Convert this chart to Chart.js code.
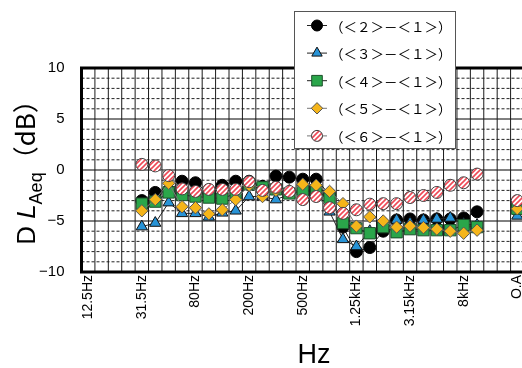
<!DOCTYPE html>
<html>
<head>
<meta charset="utf-8">
<script src="https://cdn.jsdelivr.net/npm/chart.js@4/dist/chart.umd.min.js"></script>
<style>
  html, body { margin: 0; padding: 0; background: #fff; overflow: hidden; }
  #wrap { position: relative; width: 545px; height: 368px; }
</style>
</head>
<body>
<div id="wrap"><canvas id="c"></canvas></div>
<script>
// 1/3-octave band centre frequencies plus overall (O.A)
const bands = ['12.5Hz','16Hz','20Hz','25Hz','31.5Hz','40Hz','50Hz','63Hz','80Hz','100Hz',
  '125Hz','160Hz','200Hz','250Hz','315Hz','400Hz','500Hz','630Hz','800Hz','1kHz',
  '1.25kHz','1.6kHz','2kHz','2.5kHz','3.15kHz','4kHz','5kHz','6.3kHz','8kHz','10kHz',
  '12.5kHz','16kHz','O.A'];

// Level differences against <1> (dB)
const d21 = [null,null,null,null,-3.0,-2.2,-2.0,-1.1,-1.25,-2.3,-1.5,-1.1,-1.1,-1.6,-0.6,-0.7,-0.9,-0.9,-2.4,-5.6,-8.0,-7.6,-6.0,-4.9,-4.8,-4.9,-4.8,-4.8,-4.7,-4.1,null,null,-3.4];
const d31 = [null,null,null,null,-5.55,-5.2,-3.2,-4.25,-4.25,-4.6,-4.2,-4.0,-2.6,-2.6,-2.9,-2.4,-2.1,-2.1,-4.1,-6.8,-7.5,-6.0,-5.5,-4.9,-5.2,-4.9,-4.8,-4.7,-5.3,-5.4,null,null,-4.5];
const d41 = [null,null,null,null,-3.3,-3.1,-2.2,-2.45,-2.6,-2.7,-2.8,-2.3,-1.4,-1.7,-1.9,-2.3,-2.0,-2.0,-2.8,-5.2,-5.7,-6.2,-5.6,-6.1,-5.8,-5.9,-5.9,-5.9,-5.4,-5.6,null,null,-3.8];
const d51 = [null,null,null,null,-4.0,-2.9,-1.3,-3.6,-3.7,-4.3,-3.9,-2.9,-1.5,-2.6,-2.0,-2.0,-1.4,-1.5,-2.1,-3.3,-5.5,-4.6,-5.0,-5.6,-5.5,-5.65,-5.8,-6.0,-6.2,-5.9,null,null,-3.8];
const d61 = [null,null,null,null,0.55,0.4,-0.55,-1.85,-2.1,-1.9,-1.9,-1.9,-1.15,-2.0,-1.7,-2.1,-2.9,-2.6,-3.7,-4.25,-3.9,-3.35,-3.3,-3.3,-2.7,-2.5,-2.2,-1.5,-1.25,-0.4,null,null,-3.0];

const seriesNames = ['（＜２＞－＜１＞）','（＜３＞－＜１＞）','（＜４＞－＜１＞）','（＜５＞－＜１＞）','（＜６＞－＜１＞）'];
const yTicks = [-10, -5, 0, 5, 10];

// white disc with red diagonal hatching
function hatch() {
  const s = 5;
  const c = document.createElement('canvas');
  c.width = s; c.height = s;
  const g = c.getContext('2d');
  g.fillStyle = '#ffffff';
  g.fillRect(0, 0, s, s);
  g.strokeStyle = '#ee4a57';
  g.lineWidth = 1.6;
  g.beginPath();
  g.moveTo(-1, s + 1); g.lineTo(s + 1, -1);
  g.moveTo(-1, 1); g.lineTo(1, -1);
  g.moveTo(s - 1, s + 1); g.lineTo(s + 1, s - 1);
  g.stroke();
  return g.createPattern(c, 'repeat');
}
const hatchFill = hatch();

const styles = [
  { pointStyle: 'circle',  pointRadius: 6,   bg: '#000000', border: '#000000', line: '#222222' },
  { pointStyle: 'triangle',pointRadius: 6.5, bg: '#2893d6', border: '#111111', line: '#222222' },
  { pointStyle: 'rect',    pointRadius: 8,   bg: '#2aa64a', border: '#1c4f2a', line: '#222222' },
  { pointStyle: 'rectRot', pointRadius: 6.2, bg: '#f5b51a', border: '#555555', line: '#777777' },
  { pointStyle: 'circle',  pointRadius: 6,   bg: hatchFill, border: '#444444', line: '#777777' }
];
const values = [d21, d31, d41, d51, d61];

const datasets = values.map((v, i) => ({
  label: seriesNames[i],
  data: v,
  order: 5 - i,
  borderColor: styles[i].line,
  borderWidth: 1,
  pointStyle: styles[i].pointStyle,
  pointRadius: styles[i].pointRadius,
  pointBackgroundColor: styles[i].bg,
  pointBorderColor: styles[i].border,
  pointBorderWidth: 1,
  spanGaps: false,
  tension: 0
}));

function markerPath(ctx, style, x, y, r) {
  ctx.beginPath();
  if (style === 'circle') {
    ctx.arc(x, y, r, 0, Math.PI * 2);
  } else if (style === 'triangle') {
    ctx.moveTo(x, y - r);
    ctx.lineTo(x + r * Math.sin(2 * Math.PI / 3), y - r * Math.cos(2 * Math.PI / 3));
    ctx.lineTo(x + r * Math.sin(4 * Math.PI / 3), y - r * Math.cos(4 * Math.PI / 3));
    ctx.closePath();
  } else if (style === 'rect') {
    const s = r * Math.SQRT1_2;
    ctx.rect(x - s, y - s, 2 * s, 2 * s);
  } else {
    ctx.moveTo(x - r, y); ctx.lineTo(x, y - r); ctx.lineTo(x + r, y); ctx.lineTo(x, y + r);
    ctx.closePath();
  }
}

const framePlugin = {
  id: 'frame',
  beforeDatasetsDraw(chart) {
    const { ctx, chartArea: a, scales: { x, y } } = chart;
    ctx.save();
    ctx.beginPath();
    ctx.rect(a.left, a.top, a.right - a.left, a.bottom - a.top);
    ctx.clip();
    ctx.lineWidth = 1;
    // horizontal: solid every 5 dB, dashed every 1 dB
    for (let v = -9; v <= 9; v++) {
      const py = y.getPixelForValue(v);
      const major = v % 5 === 0;
      ctx.setLineDash(major ? [] : [3, 2]);
      ctx.strokeStyle = major ? '#000' : '#222';
      ctx.beginPath(); ctx.moveTo(a.left, py); ctx.lineTo(a.right, py); ctx.stroke();
    }
    ctx.setLineDash([]);
    // vertical: band boundaries
    ctx.strokeStyle = '#1a1a1a';
    for (let i = 1; i < bands.length; i++) {
      const px = (x.getPixelForValue(i - 1) + x.getPixelForValue(i)) / 2;
      ctx.beginPath(); ctx.moveTo(px, a.top); ctx.lineTo(px, a.bottom); ctx.stroke();
    }
    ctx.restore();
    ctx.save();
    ctx.lineWidth = 3;
    ctx.strokeStyle = '#000';
    ctx.strokeRect(a.left, a.top, a.right - a.left, a.bottom - a.top);
    ctx.restore();
  },
  afterDraw(chart) {
    const { ctx } = chart;
    ctx.save();
    // x-axis title
    ctx.fillStyle = '#000';
    ctx.font = '27px "Liberation Sans", Arial, sans-serif';
    ctx.textAlign = 'center';
    ctx.textBaseline = 'alphabetic';
    ctx.fillText('Hz', 314, 363);

    // y-axis title: D L_Aeq （dB）
    ctx.translate(35, 166);
    ctx.rotate(-Math.PI / 2);
    ctx.textAlign = 'left';
    const big = '26px "Liberation Sans", Arial, sans-serif';
    const ital = 'italic 26px "Liberation Sans", Arial, sans-serif';
    const sub = '18px "Liberation Sans", Arial, sans-serif';
    const cjk = '26px "Noto Sans CJK JP", "Liberation Sans", sans-serif';
    const parts = [
      { t: 'D', f: big, dy: 0 },
      { t: ' ', f: big, dy: 0 },
      { t: 'L', f: ital, dy: 0 },
      { t: 'Aeq', f: sub, dy: 7 },
      { t: '（dB）', f: cjk, dy: 0 }
    ];
    let total = 0;
    parts.forEach(p => { ctx.font = p.f; p.w = ctx.measureText(p.t).width; total += p.w; });
    let cx = -total / 2;
    parts.forEach(p => { ctx.font = p.f; ctx.fillText(p.t, cx, p.dy); cx += p.w; });
    ctx.restore();

    // legend box
    ctx.save();
    const bx = 294.5, by = 11.5, bw = 161, bh = 137;
    ctx.fillStyle = '#fff';
    ctx.fillRect(bx, by, bw, bh);
    ctx.strokeStyle = '#555';
    ctx.lineWidth = 1;
    ctx.strokeRect(bx, by, bw, bh);
    ctx.font = '13.5px "Noto Sans CJK JP", sans-serif';
    ctx.textBaseline = 'middle';
    ctx.textAlign = 'left';
    chart.data.datasets.forEach((ds, i) => {
      const ly = 25.5 + i * 27.6;
      ctx.strokeStyle = styles[i].line;
      ctx.lineWidth = 1;
      ctx.beginPath(); ctx.moveTo(307, ly); ctx.lineTo(327, ly); ctx.stroke();
      markerPath(ctx, styles[i].pointStyle, 317, ly, styles[i].pointRadius - 0.5);
      ctx.fillStyle = styles[i].bg;
      ctx.fill();
      ctx.strokeStyle = styles[i].border;
      ctx.stroke();
      ctx.fillStyle = '#000';
      ctx.fillText(ds.label, 330, ly + 1);
    });
    ctx.restore();
  }
};

new Chart(document.getElementById('c'), {
  type: 'line',
  data: { labels: bands, datasets },
  options: {
    responsive: true,
    maintainAspectRatio: false,
    animation: false,
    events: [],
    layout: { padding: { top: 68, right: 21, left: 0, bottom: 0 } },
    plugins: { legend: { display: false }, tooltip: { enabled: false } },
    scales: {
      x: {
        type: 'category',
        offset: true,
        grid: { display: false, drawTicks: false },
        border: { display: false },
        afterFit: s => { s.height = 96; },
        ticks: {
          autoSkip: false,
          minRotation: 90,
          maxRotation: 90,
          padding: 3,
          color: '#000',
          font: { family: '"Liberation Sans", Arial, sans-serif', size: 14 },
          callback: (v, i) => (i % 4 === 0 ? bands[i] : '')
        }
      },
      y: {
        min: -10,
        max: 10,
        grid: { display: false, drawTicks: false },
        border: { display: false },
        afterFit: s => { s.width = 81.5; },
        afterBuildTicks: s => { s.ticks = yTicks.map(v => ({ value: v })); },
        ticks: {
          padding: 17,
          color: '#000',
          font: { family: '"Liberation Sans", Arial, sans-serif', size: 15 },
          callback: v => (v < 0 ? '\u2212' + Math.abs(v) : String(v))
        }
      }
    }
  },
  plugins: [framePlugin]
});
</script>
</body>
</html>
